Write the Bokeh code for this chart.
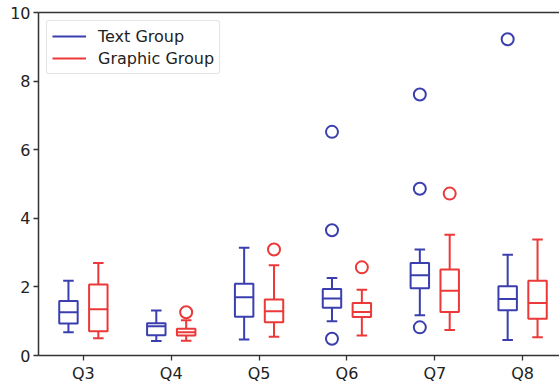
from bokeh.plotting import figure
from bokeh.models import (ColumnDataSource, FixedTicker, LinearAxis, Legend, LegendItem, Range1d)
from bokeh.embed import file_html
from bokeh.resources import INLINE

categories = ["Q3", "Q4", "Q5", "Q6", "Q7", "Q8"]

# Text Group statistics
text_low = [0.68, 0.42, 0.47, 1.00, 1.17, 0.45]
text_q1 = [0.93, 0.59, 1.13, 1.39, 1.96, 1.32]
text_med = [1.26, 0.85, 1.70, 1.66, 2.34, 1.65]
text_q3 = [1.59, 0.94, 2.09, 1.94, 2.70, 2.02]
text_high = [2.18, 1.31, 3.14, 2.26, 3.09, 2.94]
text_out_cat = ["Q6", "Q6", "Q6", "Q7", "Q7", "Q7", "Q8"]
text_out_val = [6.52, 3.65, 0.49, 7.61, 4.86, 0.82, 9.22]

# Graphic Group statistics
graph_low = [0.50, 0.43, 0.55, 0.58, 0.74, 0.53]
graph_q1 = [0.71, 0.58, 0.97, 1.12, 1.27, 1.07]
graph_med = [1.35, 0.68, 1.29, 1.27, 1.89, 1.53]
graph_q3 = [2.07, 0.78, 1.63, 1.53, 2.51, 2.18]
graph_high = [2.70, 1.03, 2.63, 1.92, 3.52, 3.38]
graph_out_cat = ["Q4", "Q5", "Q6", "Q7"]
graph_out_val = [1.26, 3.09, 2.57, 4.72]

BLUE = "#3b3fae"
RED = "#ec3838"
OFFSET = 0.17
BOX_W = 0.21
CAP_W = 0.12
LW = 2
FONT = "DejaVu Sans"

pos = {c: i + 1 for i, c in enumerate(categories)}

p = figure(width=559, height=385, output_backend="svg", toolbar_location=None,
           x_range=Range1d(0.489, 6.42), y_range=Range1d(0, 10),
           min_border_left=38, min_border_right=0, min_border_top=12, min_border_bottom=27)
p.grid.visible = False
p.outline_line_color = None
p.background_fill_color = "white"
p.border_fill_color = "white"

for ax in (p.xaxis[0], p.yaxis[0]):
    ax.axis_line_color = "#333333"
    ax.axis_line_width = 1.5
    ax.major_tick_line_color = "#333333"
    ax.major_tick_line_width = 1.3
    ax.major_tick_out = 5
    ax.major_tick_in = 0
    ax.minor_tick_line_color = None
    ax.major_label_text_font = FONT
    ax.major_label_text_font_size = "16px"
    ax.major_label_text_color = "#222222"

p.xaxis.ticker = FixedTicker(ticks=[pos[c] for c in categories])
p.xaxis.major_label_overrides = {pos[c]: c for c in categories}
p.xaxis.major_label_standoff = 3
p.yaxis.ticker = FixedTicker(ticks=[0, 2, 4, 6, 8, 10])
p.yaxis.major_label_standoff = 3

top_axis = LinearAxis(ticker=FixedTicker(ticks=[]), axis_line_color="#333333", axis_line_width=1.5,
                      major_tick_line_color=None, minor_tick_line_color=None,
                      major_label_standoff=0)
p.add_layout(top_axis, "above")


def draw_group(low, q1, med, q3, high, out_cat, out_val, offset, color):
    xs = [pos[c] + offset for c in categories]
    src = ColumnDataSource(dict(x=xs, low=low, q1=q1, med=med, q3=q3, high=high,
                                cl=[x - CAP_W / 2 for x in xs], cr=[x + CAP_W / 2 for x in xs],
                                bl=[x - BOX_W / 2 for x in xs], br=[x + BOX_W / 2 for x in xs]))
    w1 = p.segment(x0="x", y0="q3", x1="x", y1="high", source=src, line_color=color, line_width=LW)
    p.segment(x0="x", y0="low", x1="x", y1="q1", source=src, line_color=color, line_width=LW)
    p.segment(x0="cl", y0="high", x1="cr", y1="high", source=src, line_color=color, line_width=LW)
    p.segment(x0="cl", y0="low", x1="cr", y1="low", source=src, line_color=color, line_width=LW)
    p.quad(left="bl", right="br", bottom="q1", top="q3", source=src,
           fill_color=None, line_color=color, line_width=LW)
    p.segment(x0="bl", y0="med", x1="br", y1="med", source=src, line_color=color, line_width=LW)
    osrc = ColumnDataSource(dict(x=[pos[c] + offset for c in out_cat], y=out_val))
    p.scatter(x="x", y="y", source=osrc, marker="circle", size=12, fill_color=None,
              line_color=color, line_width=LW)
    return w1


r_text = draw_group(text_low, text_q1, text_med, text_q3, text_high,
                    text_out_cat, text_out_val, -OFFSET, BLUE)
r_graph = draw_group(graph_low, graph_q1, graph_med, graph_q3, graph_high,
                     graph_out_cat, graph_out_val, OFFSET, RED)

legend = Legend(items=[LegendItem(label="Text Group", renderers=[r_text]),
                       LegendItem(label="Graphic Group", renderers=[r_graph])],
                location="top_left")
legend.label_text_font = FONT
legend.label_text_font_size = "16px"
legend.label_text_color = "#222222"
legend.border_line_color = "#cccccc"
legend.border_line_width = 1
legend.border_radius = 3
legend.margin = 8
legend.padding = 5
legend.spacing = 2
legend.glyph_width = 34
legend.glyph_height = 20
legend.label_standoff = 12
legend.label_height = 20
p.add_layout(legend)

open("out.html", "w").write(file_html(p, INLINE))
